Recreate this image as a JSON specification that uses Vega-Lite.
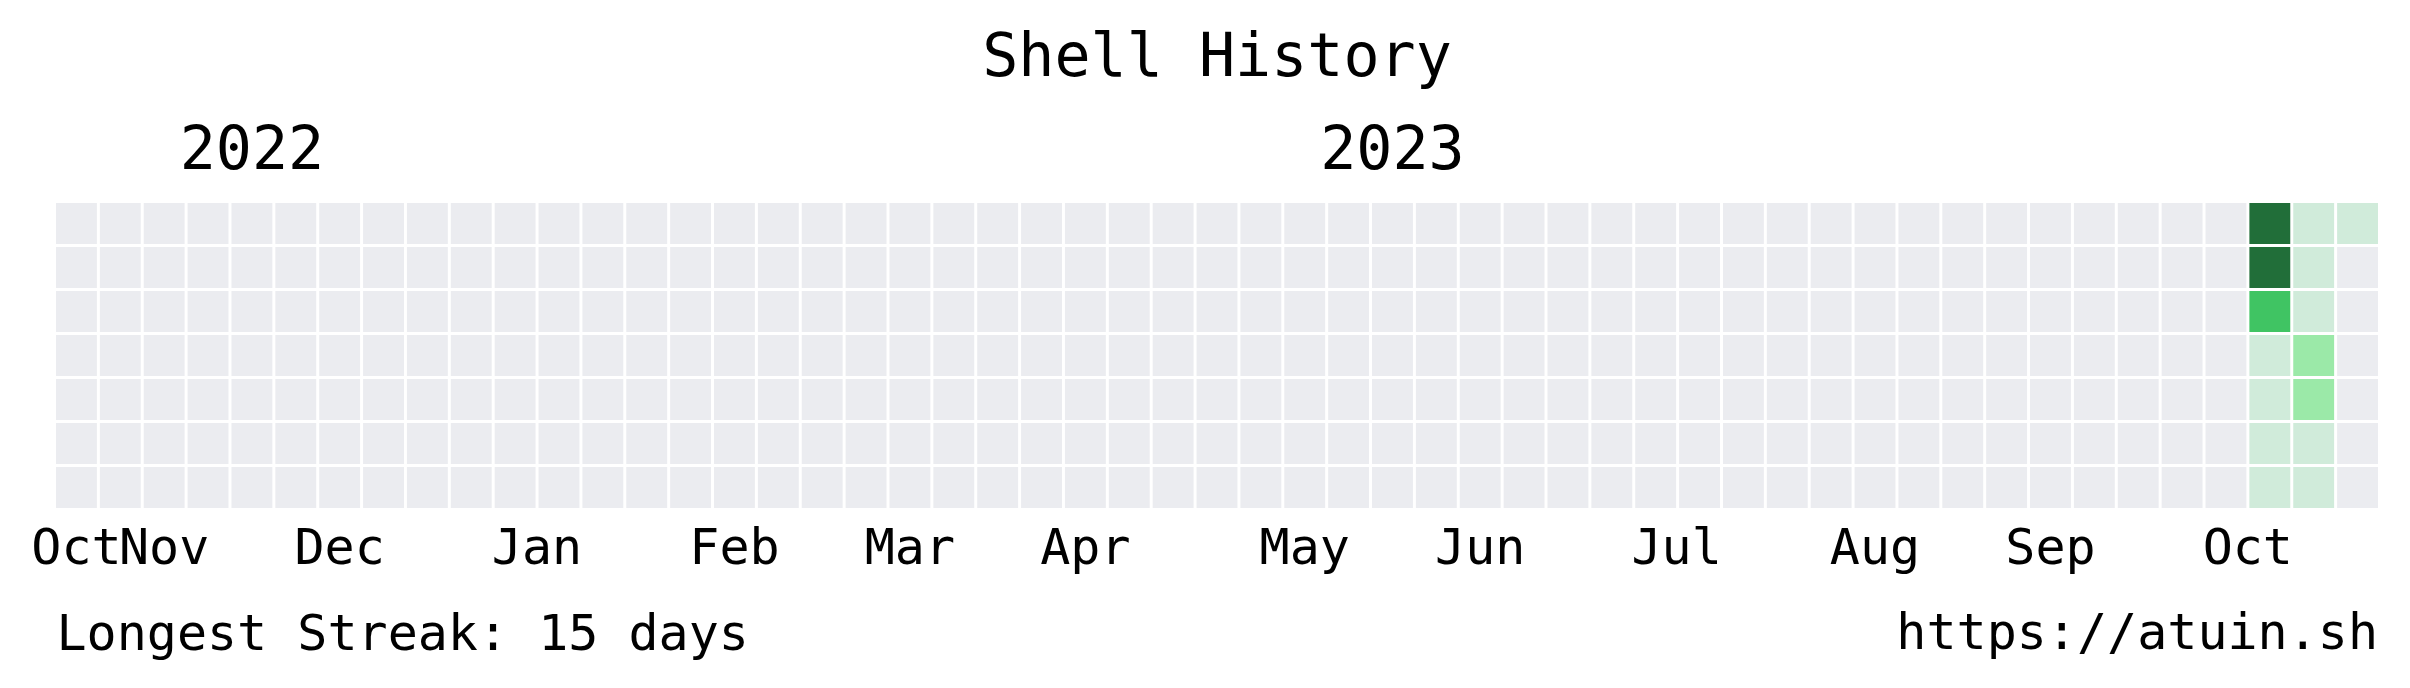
{
  "$schema": "https://vega.github.io/schema/vega-lite/v6.json",
  "background": "white",
  "padding": {"left": 30, "top": 28, "right": 20, "bottom": 25},
  "config": {
    "font": "DejaVu Sans Mono",
    "view": {"stroke": null},
    "title": {"font": "DejaVu Sans Mono", "fontWeight": "normal", "color": "black"}
  },
  "title": {"text": "https://atuin.sh", "orient": "bottom", "anchor": "end", "fontSize": 50, "offset": -50},
  "vconcat": [
    {
      "title": {"text": "Shell History", "fontSize": 60, "anchor": "middle", "frame": "group", "offset": 31},
      "width": 2322,
      "height": 305,
      "data": {
        "values": [
          {"week":0,"day":0,"count":0},{"week":0,"day":1,"count":0},{"week":0,"day":2,"count":0},{"week":0,"day":3,"count":0},{"week":0,"day":4,"count":0},{"week":0,"day":5,"count":0},{"week":0,"day":6,"count":0},
          {"week":1,"day":0,"count":0},{"week":1,"day":1,"count":0},{"week":1,"day":2,"count":0},{"week":1,"day":3,"count":0},{"week":1,"day":4,"count":0},{"week":1,"day":5,"count":0},{"week":1,"day":6,"count":0},
          {"week":2,"day":0,"count":0},{"week":2,"day":1,"count":0},{"week":2,"day":2,"count":0},{"week":2,"day":3,"count":0},{"week":2,"day":4,"count":0},{"week":2,"day":5,"count":0},{"week":2,"day":6,"count":0},
          {"week":3,"day":0,"count":0},{"week":3,"day":1,"count":0},{"week":3,"day":2,"count":0},{"week":3,"day":3,"count":0},{"week":3,"day":4,"count":0},{"week":3,"day":5,"count":0},{"week":3,"day":6,"count":0},
          {"week":4,"day":0,"count":0},{"week":4,"day":1,"count":0},{"week":4,"day":2,"count":0},{"week":4,"day":3,"count":0},{"week":4,"day":4,"count":0},{"week":4,"day":5,"count":0},{"week":4,"day":6,"count":0},
          {"week":5,"day":0,"count":0},{"week":5,"day":1,"count":0},{"week":5,"day":2,"count":0},{"week":5,"day":3,"count":0},{"week":5,"day":4,"count":0},{"week":5,"day":5,"count":0},{"week":5,"day":6,"count":0},
          {"week":6,"day":0,"count":0},{"week":6,"day":1,"count":0},{"week":6,"day":2,"count":0},{"week":6,"day":3,"count":0},{"week":6,"day":4,"count":0},{"week":6,"day":5,"count":0},{"week":6,"day":6,"count":0},
          {"week":7,"day":0,"count":0},{"week":7,"day":1,"count":0},{"week":7,"day":2,"count":0},{"week":7,"day":3,"count":0},{"week":7,"day":4,"count":0},{"week":7,"day":5,"count":0},{"week":7,"day":6,"count":0},
          {"week":8,"day":0,"count":0},{"week":8,"day":1,"count":0},{"week":8,"day":2,"count":0},{"week":8,"day":3,"count":0},{"week":8,"day":4,"count":0},{"week":8,"day":5,"count":0},{"week":8,"day":6,"count":0},
          {"week":9,"day":0,"count":0},{"week":9,"day":1,"count":0},{"week":9,"day":2,"count":0},{"week":9,"day":3,"count":0},{"week":9,"day":4,"count":0},{"week":9,"day":5,"count":0},{"week":9,"day":6,"count":0},
          {"week":10,"day":0,"count":0},{"week":10,"day":1,"count":0},{"week":10,"day":2,"count":0},{"week":10,"day":3,"count":0},{"week":10,"day":4,"count":0},{"week":10,"day":5,"count":0},{"week":10,"day":6,"count":0},
          {"week":11,"day":0,"count":0},{"week":11,"day":1,"count":0},{"week":11,"day":2,"count":0},{"week":11,"day":3,"count":0},{"week":11,"day":4,"count":0},{"week":11,"day":5,"count":0},{"week":11,"day":6,"count":0},
          {"week":12,"day":0,"count":0},{"week":12,"day":1,"count":0},{"week":12,"day":2,"count":0},{"week":12,"day":3,"count":0},{"week":12,"day":4,"count":0},{"week":12,"day":5,"count":0},{"week":12,"day":6,"count":0},
          {"week":13,"day":0,"count":0},{"week":13,"day":1,"count":0},{"week":13,"day":2,"count":0},{"week":13,"day":3,"count":0},{"week":13,"day":4,"count":0},{"week":13,"day":5,"count":0},{"week":13,"day":6,"count":0},
          {"week":14,"day":0,"count":0},{"week":14,"day":1,"count":0},{"week":14,"day":2,"count":0},{"week":14,"day":3,"count":0},{"week":14,"day":4,"count":0},{"week":14,"day":5,"count":0},{"week":14,"day":6,"count":0},
          {"week":15,"day":0,"count":0},{"week":15,"day":1,"count":0},{"week":15,"day":2,"count":0},{"week":15,"day":3,"count":0},{"week":15,"day":4,"count":0},{"week":15,"day":5,"count":0},{"week":15,"day":6,"count":0},
          {"week":16,"day":0,"count":0},{"week":16,"day":1,"count":0},{"week":16,"day":2,"count":0},{"week":16,"day":3,"count":0},{"week":16,"day":4,"count":0},{"week":16,"day":5,"count":0},{"week":16,"day":6,"count":0},
          {"week":17,"day":0,"count":0},{"week":17,"day":1,"count":0},{"week":17,"day":2,"count":0},{"week":17,"day":3,"count":0},{"week":17,"day":4,"count":0},{"week":17,"day":5,"count":0},{"week":17,"day":6,"count":0},
          {"week":18,"day":0,"count":0},{"week":18,"day":1,"count":0},{"week":18,"day":2,"count":0},{"week":18,"day":3,"count":0},{"week":18,"day":4,"count":0},{"week":18,"day":5,"count":0},{"week":18,"day":6,"count":0},
          {"week":19,"day":0,"count":0},{"week":19,"day":1,"count":0},{"week":19,"day":2,"count":0},{"week":19,"day":3,"count":0},{"week":19,"day":4,"count":0},{"week":19,"day":5,"count":0},{"week":19,"day":6,"count":0},
          {"week":20,"day":0,"count":0},{"week":20,"day":1,"count":0},{"week":20,"day":2,"count":0},{"week":20,"day":3,"count":0},{"week":20,"day":4,"count":0},{"week":20,"day":5,"count":0},{"week":20,"day":6,"count":0},
          {"week":21,"day":0,"count":0},{"week":21,"day":1,"count":0},{"week":21,"day":2,"count":0},{"week":21,"day":3,"count":0},{"week":21,"day":4,"count":0},{"week":21,"day":5,"count":0},{"week":21,"day":6,"count":0},
          {"week":22,"day":0,"count":0},{"week":22,"day":1,"count":0},{"week":22,"day":2,"count":0},{"week":22,"day":3,"count":0},{"week":22,"day":4,"count":0},{"week":22,"day":5,"count":0},{"week":22,"day":6,"count":0},
          {"week":23,"day":0,"count":0},{"week":23,"day":1,"count":0},{"week":23,"day":2,"count":0},{"week":23,"day":3,"count":0},{"week":23,"day":4,"count":0},{"week":23,"day":5,"count":0},{"week":23,"day":6,"count":0},
          {"week":24,"day":0,"count":0},{"week":24,"day":1,"count":0},{"week":24,"day":2,"count":0},{"week":24,"day":3,"count":0},{"week":24,"day":4,"count":0},{"week":24,"day":5,"count":0},{"week":24,"day":6,"count":0},
          {"week":25,"day":0,"count":0},{"week":25,"day":1,"count":0},{"week":25,"day":2,"count":0},{"week":25,"day":3,"count":0},{"week":25,"day":4,"count":0},{"week":25,"day":5,"count":0},{"week":25,"day":6,"count":0},
          {"week":26,"day":0,"count":0},{"week":26,"day":1,"count":0},{"week":26,"day":2,"count":0},{"week":26,"day":3,"count":0},{"week":26,"day":4,"count":0},{"week":26,"day":5,"count":0},{"week":26,"day":6,"count":0},
          {"week":27,"day":0,"count":0},{"week":27,"day":1,"count":0},{"week":27,"day":2,"count":0},{"week":27,"day":3,"count":0},{"week":27,"day":4,"count":0},{"week":27,"day":5,"count":0},{"week":27,"day":6,"count":0},
          {"week":28,"day":0,"count":0},{"week":28,"day":1,"count":0},{"week":28,"day":2,"count":0},{"week":28,"day":3,"count":0},{"week":28,"day":4,"count":0},{"week":28,"day":5,"count":0},{"week":28,"day":6,"count":0},
          {"week":29,"day":0,"count":0},{"week":29,"day":1,"count":0},{"week":29,"day":2,"count":0},{"week":29,"day":3,"count":0},{"week":29,"day":4,"count":0},{"week":29,"day":5,"count":0},{"week":29,"day":6,"count":0},
          {"week":30,"day":0,"count":0},{"week":30,"day":1,"count":0},{"week":30,"day":2,"count":0},{"week":30,"day":3,"count":0},{"week":30,"day":4,"count":0},{"week":30,"day":5,"count":0},{"week":30,"day":6,"count":0},
          {"week":31,"day":0,"count":0},{"week":31,"day":1,"count":0},{"week":31,"day":2,"count":0},{"week":31,"day":3,"count":0},{"week":31,"day":4,"count":0},{"week":31,"day":5,"count":0},{"week":31,"day":6,"count":0},
          {"week":32,"day":0,"count":0},{"week":32,"day":1,"count":0},{"week":32,"day":2,"count":0},{"week":32,"day":3,"count":0},{"week":32,"day":4,"count":0},{"week":32,"day":5,"count":0},{"week":32,"day":6,"count":0},
          {"week":33,"day":0,"count":0},{"week":33,"day":1,"count":0},{"week":33,"day":2,"count":0},{"week":33,"day":3,"count":0},{"week":33,"day":4,"count":0},{"week":33,"day":5,"count":0},{"week":33,"day":6,"count":0},
          {"week":34,"day":0,"count":0},{"week":34,"day":1,"count":0},{"week":34,"day":2,"count":0},{"week":34,"day":3,"count":0},{"week":34,"day":4,"count":0},{"week":34,"day":5,"count":0},{"week":34,"day":6,"count":0},
          {"week":35,"day":0,"count":0},{"week":35,"day":1,"count":0},{"week":35,"day":2,"count":0},{"week":35,"day":3,"count":0},{"week":35,"day":4,"count":0},{"week":35,"day":5,"count":0},{"week":35,"day":6,"count":0},
          {"week":36,"day":0,"count":0},{"week":36,"day":1,"count":0},{"week":36,"day":2,"count":0},{"week":36,"day":3,"count":0},{"week":36,"day":4,"count":0},{"week":36,"day":5,"count":0},{"week":36,"day":6,"count":0},
          {"week":37,"day":0,"count":0},{"week":37,"day":1,"count":0},{"week":37,"day":2,"count":0},{"week":37,"day":3,"count":0},{"week":37,"day":4,"count":0},{"week":37,"day":5,"count":0},{"week":37,"day":6,"count":0},
          {"week":38,"day":0,"count":0},{"week":38,"day":1,"count":0},{"week":38,"day":2,"count":0},{"week":38,"day":3,"count":0},{"week":38,"day":4,"count":0},{"week":38,"day":5,"count":0},{"week":38,"day":6,"count":0},
          {"week":39,"day":0,"count":0},{"week":39,"day":1,"count":0},{"week":39,"day":2,"count":0},{"week":39,"day":3,"count":0},{"week":39,"day":4,"count":0},{"week":39,"day":5,"count":0},{"week":39,"day":6,"count":0},
          {"week":40,"day":0,"count":0},{"week":40,"day":1,"count":0},{"week":40,"day":2,"count":0},{"week":40,"day":3,"count":0},{"week":40,"day":4,"count":0},{"week":40,"day":5,"count":0},{"week":40,"day":6,"count":0},
          {"week":41,"day":0,"count":0},{"week":41,"day":1,"count":0},{"week":41,"day":2,"count":0},{"week":41,"day":3,"count":0},{"week":41,"day":4,"count":0},{"week":41,"day":5,"count":0},{"week":41,"day":6,"count":0},
          {"week":42,"day":0,"count":0},{"week":42,"day":1,"count":0},{"week":42,"day":2,"count":0},{"week":42,"day":3,"count":0},{"week":42,"day":4,"count":0},{"week":42,"day":5,"count":0},{"week":42,"day":6,"count":0},
          {"week":43,"day":0,"count":0},{"week":43,"day":1,"count":0},{"week":43,"day":2,"count":0},{"week":43,"day":3,"count":0},{"week":43,"day":4,"count":0},{"week":43,"day":5,"count":0},{"week":43,"day":6,"count":0},
          {"week":44,"day":0,"count":0},{"week":44,"day":1,"count":0},{"week":44,"day":2,"count":0},{"week":44,"day":3,"count":0},{"week":44,"day":4,"count":0},{"week":44,"day":5,"count":0},{"week":44,"day":6,"count":0},
          {"week":45,"day":0,"count":0},{"week":45,"day":1,"count":0},{"week":45,"day":2,"count":0},{"week":45,"day":3,"count":0},{"week":45,"day":4,"count":0},{"week":45,"day":5,"count":0},{"week":45,"day":6,"count":0},
          {"week":46,"day":0,"count":0},{"week":46,"day":1,"count":0},{"week":46,"day":2,"count":0},{"week":46,"day":3,"count":0},{"week":46,"day":4,"count":0},{"week":46,"day":5,"count":0},{"week":46,"day":6,"count":0},
          {"week":47,"day":0,"count":0},{"week":47,"day":1,"count":0},{"week":47,"day":2,"count":0},{"week":47,"day":3,"count":0},{"week":47,"day":4,"count":0},{"week":47,"day":5,"count":0},{"week":47,"day":6,"count":0},
          {"week":48,"day":0,"count":0},{"week":48,"day":1,"count":0},{"week":48,"day":2,"count":0},{"week":48,"day":3,"count":0},{"week":48,"day":4,"count":0},{"week":48,"day":5,"count":0},{"week":48,"day":6,"count":0},
          {"week":49,"day":0,"count":0},{"week":49,"day":1,"count":0},{"week":49,"day":2,"count":0},{"week":49,"day":3,"count":0},{"week":49,"day":4,"count":0},{"week":49,"day":5,"count":0},{"week":49,"day":6,"count":0},
          {"week":50,"day":0,"count":812},{"week":50,"day":1,"count":745},{"week":50,"day":2,"count":402},{"week":50,"day":3,"count":23},{"week":50,"day":4,"count":41},{"week":50,"day":5,"count":12},{"week":50,"day":6,"count":35},
          {"week":51,"day":0,"count":18},{"week":51,"day":1,"count":9},{"week":51,"day":2,"count":27},{"week":51,"day":3,"count":156},{"week":51,"day":4,"count":189},{"week":51,"day":5,"count":44},{"week":51,"day":6,"count":31},
          {"week":52,"day":0,"count":15},{"week":52,"day":1,"count":0},{"week":52,"day":2,"count":0},{"week":52,"day":3,"count":0},{"week":52,"day":4,"count":0},{"week":52,"day":5,"count":0},{"week":52,"day":6,"count":0}
        ]
      },
      "resolve": {"axis": {"x": "independent"}},
      "layer": [
        {
          "mark": {"type": "rect"},
          "encoding": {
            "x": {
              "field": "week", "type": "ordinal",
              "scale": {"paddingInner": 0.068, "paddingOuter": 0},
              "axis": {
                "orient": "bottom",
                "values": [0,2,6,11,15,19,23,28,32,36,41,45,50],
                "labelExpr": "datum.value==0?'Oct':datum.value==2?'Nov':datum.value==6?'Dec':datum.value==11?'Jan':datum.value==15?'Feb':datum.value==19?'Mar':datum.value==23?'Apr':datum.value==28?'May':datum.value==32?'Jun':datum.value==36?'Jul':datum.value==41?'Aug':datum.value==45?'Sep':'Oct'",
                "labelAngle": 0,
                "labelFont": "DejaVu Sans Mono",
                "labelFontSize": 50,
                "labelColor": "black",
                "labelPadding": 15,
                "labelOverlap": false,
                "labelBound": false,
                "labelFlush": false,
                "labelOffset": {"condition": [{"test": "datum.value==36", "value": 21}, {"test": "datum.value==11||datum.value==50", "value": -22}], "value": 0},
                "domain": false,
                "ticks": false,
                "tickSize": 0,
                "grid": false,
                "title": "Longest Streak: 15 days",
                "titleFont": "DejaVu Sans Mono",
                "titleFontSize": 50,
                "titleFontWeight": "normal",
                "titleColor": "black",
                "titleAnchor": "start",
                "titleAlign": "left",
                "titlePadding": 36
              }
            },
            "y": {
              "field": "day", "type": "ordinal",
              "scale": {"paddingInner": 0.068, "paddingOuter": 0},
              "axis": null
            },
            "color": {
              "field": "count", "type": "quantitative",
              "scale": {"type": "threshold", "domain": [1, 100, 250, 500], "range": ["#ebecf0", "#d0ebda", "#9be9a8", "#40c463", "#216e39"]},
              "legend": null
            }
          }
        },
        {
          "mark": {"type": "rect", "opacity": 0},
          "encoding": {
            "x": {
              "field": "week", "type": "ordinal",
              "axis": {
                "orient": "top",
                "values": [4, 30],
                "labelExpr": "datum.value==4?'2022':'2023'",
                "labelAngle": 0,
                "labelFont": "DejaVu Sans Mono",
                "labelFontSize": 60,
                "labelColor": "black",
                "labelPadding": 22,
                "labelOverlap": false,
                "domain": false,
                "ticks": false,
                "tickSize": 0,
                "grid": false,
                "title": null
              }
            },
            "y": {"field": "day", "type": "ordinal"}
          }
        }
      ]
    }
  ]
}
